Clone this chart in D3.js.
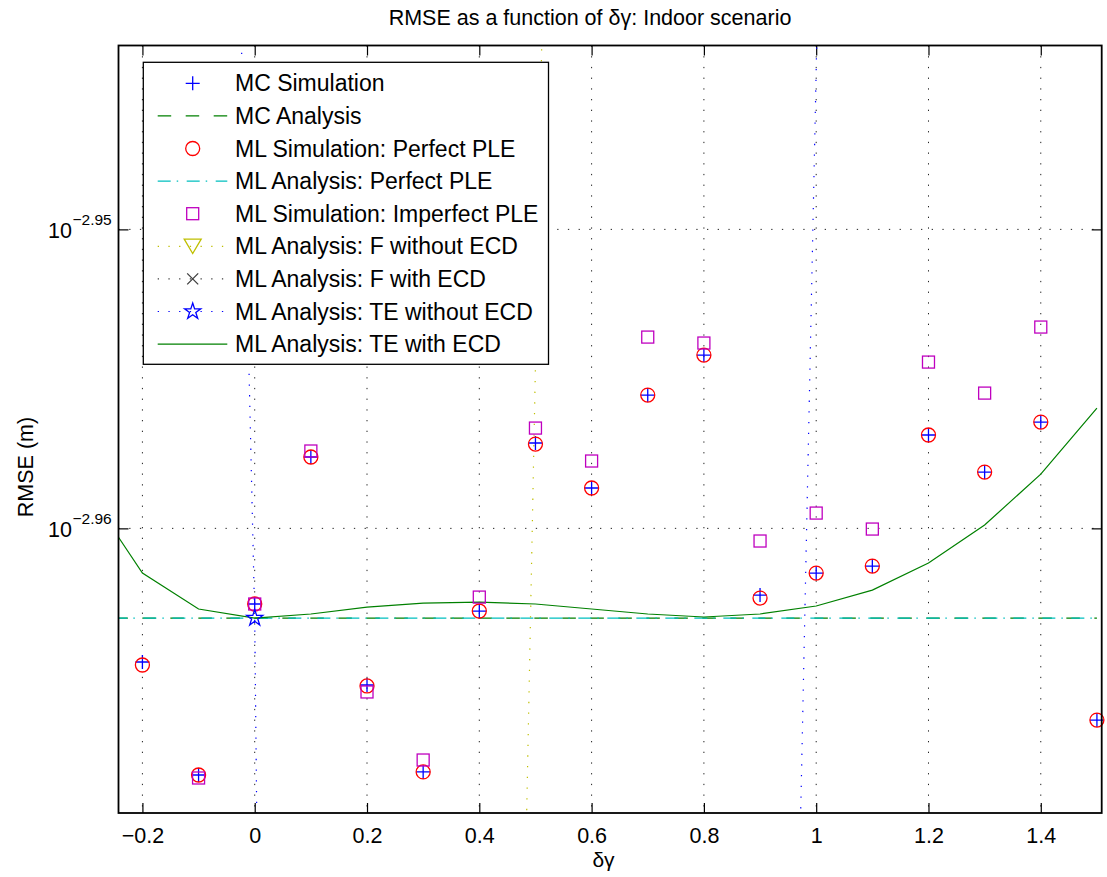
<!DOCTYPE html>
<html><head><meta charset="utf-8">
<script src="https://cdn.jsdelivr.net/npm/d3@7"></script>
<style>
body{margin:0;background:#fff}
text{font-family:"Liberation Sans", Arial, Helvetica, sans-serif;fill:#000}
</style>
</head><body>
<svg id="chart" width="1107" height="877"></svg>
<script>
// ---------------- data ----------------
const deltaGamma = [-0.2,-0.1,0,0.1,0.2,0.3,0.4,0.5,0.6,0.7,0.8,0.9,1.0,1.1,1.2,1.3,1.4,1.5];
// RMSE values stored in units of 1e-3 m (scaled below)
const mcSimulation = [1.08525,1.07585,1.09011,1.10252,1.08333,1.07610,1.08952,1.10371,1.09989,1.10779,1.11121,1.09086,1.09271,1.09330,1.10439,1.10124,1.10549,1.08041];
const mlSimPerfect = [1.08500,1.07585,1.09011,1.10252,1.08325,1.07610,1.08952,1.10362,1.09989,1.10779,1.11121,1.09061,1.09271,1.09330,1.10439,1.10124,1.10549,1.08041];
const mlSimImperfect = [null,1.07560,1.09011,1.10303,1.08275,1.07709,1.09069,1.10498,1.10218,1.11275,1.11224,1.09541,1.09777,1.09642,1.11061,1.10796,1.11361,null];

const analysisGamma = [-0.25,-0.2,-0.1,0,0.1,0.2,0.3,0.4,0.5,0.6,0.7,0.8,0.9,1.0,1.1,1.2,1.3,1.4,1.5];
const mcAnalysis = [1.08893,1.08893,1.08893,1.08893,1.08893,1.08893,1.08893,1.08893,1.08893,1.08893,1.08893,1.08893,1.08893,1.08893,1.08893,1.08893,1.08893,1.08893,1.08893];
const mlAnalysisPerfect = [1.08893,1.08893,1.08893,1.08893,1.08893,1.08893,1.08893,1.08893,1.08893,1.08893,1.08893,1.08893,1.08893,1.08893,1.08893,1.08893,1.08893,1.08893,1.08893];
const fWithoutEcd = [0.35,0.38,0.43,0.50,0.56,0.65,0.76,0.89031,1.11035,1.38452,1.60,1.80,2.00,2.20,2.40,2.60,2.80,3.00,3.20];
const fWithEcd = [1.25,1.25,1.25,1.25,1.25,1.25,1.25,1.25,1.25,1.25,1.25,1.25,1.25,1.25,1.25,1.25,1.25,1.25,1.25];
const teWithoutEcd = [1.45,1.41254,1.31322,1.08893,0.71614,0.66,0.64,0.63,0.63,0.64,0.66,0.72,0.92318,1.13591,1.41254,1.60,1.80,2.00,2.20];
const teWithEcd = [1.09625,1.09271,1.08969,1.08893,1.08927,1.08985,1.09019,1.09027,1.09011,1.08969,1.08927,1.08902,1.08927,1.08994,1.09128,1.09355,1.09676,1.10107,1.10668];
const teWithoutEcdMarkerGamma = [0];
const teWithoutEcdMarkerValue = [1.08893];

const valueScale = 1e-3;

const xTicks = [-0.2,0,0.2,0.4,0.6,0.8,1,1.2,1.4];
const yTickExponents = [-2.96,-2.95];
const xLimits = [-0.2426, 1.5085];
const yLimitExponents = [-2.96952, -2.94385];

const legendLabels = ["MC Simulation","MC Analysis","ML Simulation: Perfect PLE","ML Analysis: Perfect PLE",
  "ML Simulation: Imperfect PLE","ML Analysis: F without ECD","ML Analysis: F with ECD",
  "ML Analysis: TE without ECD","ML Analysis: TE with ECD"];

// ---------------- layout ----------------
const L = 118.5, R = 1101.7, T = 45.5, B = 813;
const svg = d3.select("#chart");
const x = d3.scaleLinear().domain(xLimits).range([L, R]);
const y = d3.scaleLog().domain(yLimitExponents.map(e => Math.pow(10, e))).range([B, T]);

const DOT = "1.3,9.4";
const DASH = "13.5,14.5";
const DASHDOT = "13,6,1.5,8.5";

svg.append("defs").append("clipPath").attr("id","clip")
  .append("rect").attr("x",L).attr("y",T).attr("width",R-L).attr("height",B-T);

// grid
const grid = svg.append("g");
xTicks.forEach(t => grid.append("line").attr("x1",x(t)).attr("x2",x(t)).attr("y1",T).attr("y2",B)
  .attr("stroke","#222").attr("stroke-width",1).attr("stroke-dasharray",DOT));
yTickExponents.forEach(e => grid.append("line").attr("x1",L).attr("x2",R).attr("y1",y(Math.pow(10,e))).attr("y2",y(Math.pow(10,e)))
  .attr("stroke","#222").attr("stroke-width",1).attr("stroke-dasharray",DOT));

// axes (ticks inward, box)
const fmt = d => String(+d.toFixed(1)).replace("-", "\u2212");
const gx = svg.append("g").attr("transform",`translate(0,${B})`)
  .call(d3.axisBottom(x).tickValues(xTicks).tickSize(-10).tickPadding(14.5).tickFormat(fmt));
gx.select(".domain").remove();
gx.selectAll("text").attr("font-size","21.5px").attr("font-family","Liberation Sans, Arial, sans-serif");
const gxt = svg.append("g").attr("transform",`translate(0,${T})`)
  .call(d3.axisTop(x).tickValues(xTicks).tickSize(-10).tickFormat(""));
gxt.select(".domain").remove();
const yTickVals = yTickExponents.map(e => Math.pow(10,e));
const gy = svg.append("g").attr("transform",`translate(${L},0)`)
  .call(d3.axisLeft(y).tickValues(yTickVals).tickSize(-10).tickFormat(""));
gy.select(".domain").remove();
const gyr = svg.append("g").attr("transform",`translate(${R},0)`)
  .call(d3.axisRight(y).tickValues(yTickVals).tickSize(-10).tickFormat(""));
gyr.select(".domain").remove();
svg.selectAll(".tick line").attr("stroke","#000").attr("stroke-width",1.2);

yTickExponents.forEach(e => {
  const yy = y(Math.pow(10,e));
  svg.append("text").attr("x",72).attr("y",yy+9).attr("text-anchor","end").attr("font-size","21.5px").text("10");
  svg.append("text").attr("x",72.5).attr("y",yy-4.5).attr("text-anchor","start").attr("font-size","15.5px")
    .text("\u2212" + Math.abs(e).toFixed(2));
});

// ---------------- series ----------------
const plot = svg.append("g");
const lineGen = d3.line().defined(d => d[1] != null).x(d => x(d[0])).y(d => y(d[1]*valueScale));
const lines = plot.append("g").attr("clip-path","url(#clip)");
function drawLine(xs, vs, color, dash, w){
  lines.append("path").datum(xs.map((g,i)=>[g,vs[i]])).attr("d",lineGen)
    .attr("fill","none").attr("stroke",color).attr("stroke-width",w||1.2)
    .attr("stroke-dasharray",dash||null);
}
const plusPath = s => `M${-s},0H${s}M0,${-s}V${s}`;
const xPath = s => `M${-s},${-s}L${s},${s}M${-s},${s}L${s},${-s}`;
const triPath = (w,h) => `M${-w/2},${-h/2}L${w/2},${-h/2}L0,${h/2}Z`;
const starPath = (R0) => {
  const r0 = R0*0.382; let p = "";
  for (let i=0;i<10;i++){ const a = -Math.PI/2 + i*Math.PI/5; const rr = i%2?r0:R0;
    p += (i?"L":"M") + (rr*Math.cos(a)).toFixed(2) + "," + (rr*Math.sin(a)).toFixed(2); }
  return p + "Z";
};
function marker(g, type, color){
  const sw = 1.3;
  if (type==="plus") g.append("path").attr("d",plusPath(7)).attr("stroke",color).attr("stroke-width",sw).attr("fill","none");
  if (type==="circle") g.append("circle").attr("r",7).attr("stroke",color).attr("stroke-width",sw).attr("fill","none");
  if (type==="square") g.append("rect").attr("x",-6).attr("y",-6).attr("width",12).attr("height",12).attr("stroke",color).attr("stroke-width",sw).attr("fill","none");
  if (type==="tri") g.append("path").attr("d",triPath(17,14.5)).attr("stroke",color).attr("stroke-width",sw).attr("fill","none");
  if (type==="x") g.append("path").attr("d",xPath(5.5)).attr("stroke",color).attr("stroke-width",sw).attr("fill","none");
  if (type==="star") g.append("path").attr("d",starPath(8.5)).attr("stroke",color).attr("stroke-width",sw).attr("fill","none");
}
function drawMarkers(xs, vs, type, color){
  xs.forEach((g,i) => { if (vs[i]==null) return;
    marker(plot.append("g").attr("transform",`translate(${x(g)},${y(vs[i]*valueScale)})`), type, color); });
}

drawMarkers(deltaGamma, mcSimulation, "plus", "#0000ff");
drawLine(analysisGamma, mcAnalysis, "#008000", DASH);
drawMarkers(deltaGamma, mlSimPerfect, "circle", "#ff0000");
drawLine(analysisGamma, mlAnalysisPerfect, "#00bfbf", DASHDOT);
drawMarkers(deltaGamma, mlSimImperfect, "square", "#bf00bf");
drawLine(analysisGamma, fWithoutEcd, "#bfbf00", DOT);
drawLine(analysisGamma, fWithEcd, "#404040", DOT);
drawLine(analysisGamma, teWithoutEcd, "#0000ff", DOT);
drawMarkers(teWithoutEcdMarkerGamma, teWithoutEcdMarkerValue, "star", "#0000ff");
drawLine(analysisGamma, teWithEcd, "#008000", null);

// axes box
svg.append("rect").attr("x",L).attr("y",T).attr("width",R-L).attr("height",B-T)
  .attr("fill","none").attr("stroke","#000").attr("stroke-width",1.8);

// ---------------- legend ----------------
const legendStyles = [
  {color:"#0000ff", dash:null, line:false, marker:"plus"},
  {color:"#008000", dash:DASH, line:true, marker:null},
  {color:"#ff0000", dash:null, line:false, marker:"circle"},
  {color:"#00bfbf", dash:DASHDOT, line:true, marker:null},
  {color:"#bf00bf", dash:null, line:false, marker:"square"},
  {color:"#bfbf00", dash:DOT, line:true, marker:"tri"},
  {color:"#404040", dash:DOT, line:true, marker:"x"},
  {color:"#0000ff", dash:DOT, line:true, marker:"star"},
  {color:"#008000", dash:null, line:true, marker:null}
];
const lg = svg.append("g");
lg.append("rect").attr("x",143.3).attr("y",62.3).attr("width",405.2).attr("height",302)
  .attr("fill","#fff").attr("stroke","#000").attr("stroke-width",1.3);
legendLabels.forEach((lab,i) => {
  const cy = 83.3 + i*32.6, st = legendStyles[i];
  if (st.line) lg.append("line").attr("x1",157.7).attr("x2",227.3).attr("y1",cy).attr("y2",cy)
    .attr("stroke",st.color).attr("stroke-width",1.2).attr("stroke-dasharray",st.dash);
  if (st.marker) marker(lg.append("g").attr("transform",`translate(192.7,${cy})`), st.marker, st.color);
  lg.append("text").attr("x",235).attr("y",cy+8).attr("font-size","23px").text(lab);
});

// ---------------- titles ----------------
svg.append("text").attr("x",590).attr("y",25).attr("text-anchor","middle").attr("font-size","21.5px")
  .text("RMSE as a function of \u03b4\u03b3: Indoor scenario");
svg.append("text").attr("x",603.5).attr("y",867).attr("text-anchor","middle").attr("font-size","21px")
  .text("\u03b4\u03b3");
svg.append("text").attr("transform","translate(33,467) rotate(-90)").attr("text-anchor","middle").attr("font-size","21.5px")
  .text("RMSE (m)");
</script>
</body></html>
